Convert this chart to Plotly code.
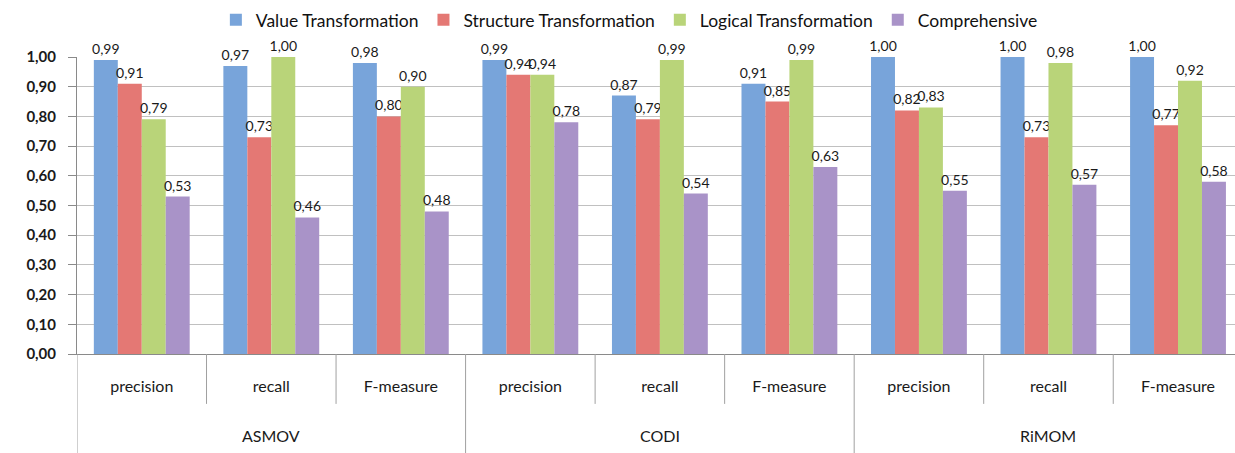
import plotly.graph_objects as go

systems = ["ASMOV", "ASMOV", "ASMOV", "CODI", "CODI", "CODI", "RiMOM", "RiMOM", "RiMOM"]
measures = ["precision", "recall", "F-measure"] * 3
system_names = ["ASMOV", "CODI", "RiMOM"]

value_transformation = [0.99, 0.97, 0.98, 0.99, 0.87, 0.91, 1.00, 1.00, 1.00]
structure_transformation = [0.91, 0.73, 0.80, 0.94, 0.79, 0.85, 0.82, 0.73, 0.77]
logical_transformation = [0.79, 1.00, 0.90, 0.94, 0.99, 0.99, 0.83, 0.98, 0.92]
comprehensive = [0.53, 0.46, 0.48, 0.78, 0.54, 0.63, 0.55, 0.57, 0.58]

series = [
    ("Value Transformation", value_transformation, "#78a4da"),
    ("Structure Transformation", structure_transformation, "#e47874"),
    ("Logical Transformation", logical_transformation, "#b9d479"),
    ("Comprehensive", comprehensive, "#a993c8"),
]

FONT = "Lato"
positions = list(range(len(measures)))

fig = go.Figure()
for name, vals, color in series:
    fig.add_trace(go.Bar(
        name=name,
        x=positions,
        y=vals,
        marker=dict(color=color, line=dict(width=0)),
        texttemplate="%{y:.2f}",
        textposition="outside",
        constraintext="none",
        textfont=dict(family=FONT, size=14, color="#1a1a1a"),
        cliponaxis=False,
    ))

# category boundary lines below the axis (axis decoration)
shapes = []
n = len(measures)
for i in range(n + 1):
    is_group = (i % 3 == 0)
    shapes.append(dict(
        type="line", xref="x", yref="paper",
        x0=i - 0.5, x1=i - 0.5, y0=0, y1=-0.36 if is_group else -0.168,
        line=dict(color="#a0a0a0", width=1),
    ))

annotations = []
for g, sname in enumerate(system_names):
    idx = [i for i, s in enumerate(systems) if s == sname]
    annotations.append(dict(
        x=sum(idx) / len(idx), y=-0.273, xref="x", yref="paper",
        text=sname, showarrow=False, xanchor="center", yanchor="middle",
        font=dict(family=FONT, size=16, color="#1a1a1a"),
    ))

fig.update_layout(
    width=1235,
    height=453,
    margin=dict(l=77, r=0, t=57, b=99),
    barmode="group",
    bargap=0.26,
    bargroupgap=0,
    separators=",.",
    plot_bgcolor="white",
    paper_bgcolor="white",
    font=dict(family=FONT, size=14, color="#222"),
    legend=dict(
        orientation="h",
        x=0.477, xanchor="center",
        y=1.125, yanchor="middle",
        font=dict(family=FONT, size=17.5, color="#111"),
        itemwidth=30,
        bgcolor="rgba(0,0,0,0)",
    ),
    shapes=shapes,
    annotations=annotations,
    showlegend=True,
)

fig.update_yaxes(
    range=[0, 1.0],
    dtick=0.1,
    tickformat=".2f",
    showgrid=True,
    gridcolor="#c0c0c0",
    gridwidth=1,
    showline=True,
    linecolor="#8a8a8a",
    ticks="outside",
    ticklen=8,
    tickcolor="#8a8a8a",
    ticklabelstandoff=9,
    tickfont=dict(family=FONT, size=15, color="#1a1a1a", weight="bold"),
    zeroline=False,
    automargin=False,
)

fig.update_xaxes(
    range=[-0.5, 8.44],
    tickvals=positions,
    ticktext=measures,
    showline=True,
    linecolor="#8a8a8a",
    ticks="",
    ticklabelstandoff=18,
    tickfont=dict(family=FONT, size=16, color="#1a1a1a"),
    showgrid=False,
    zeroline=False,
    automargin=False,
)

fig.write_html(
    "out.html",
    config={"displayModeBar": False},
    post_script="document.body.style.margin='0';",
)
